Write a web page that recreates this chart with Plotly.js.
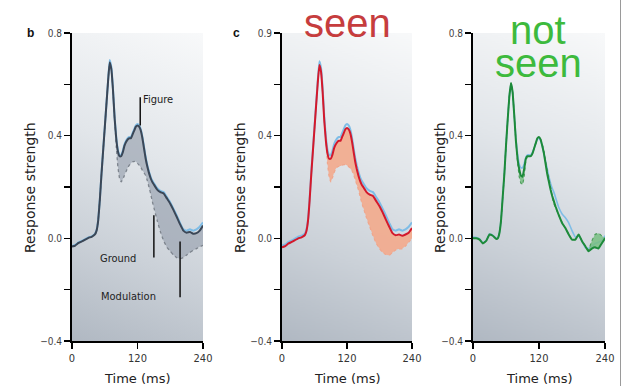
<!DOCTYPE html>
<html><head><meta charset="utf-8">
<script src="https://cdn.plot.ly/plotly-3.0.1.min.js"></script>
<style>body{margin:0;background:#fff}#c{width:624px;height:386px}</style>
</head><body><div id="c"></div>
<script>
const time = [0,6,12,18,24,30,36,42,45,48,51,54,57,60,63,66,69,72,75,78,81,84,87,90,93,96,99,102,105,108,111,114,117,120,123,126,129,132,135,138,141,144,147,150,156,162,168,174,180,186,192,198,204,210,216,222,228,234,240];

// Panel b: figure (solid), ground (dotted), blue reference
const figureB = [-0.032,-0.028,-0.018,-0.012,-0.005,0.002,0.006,0.015,0.03,0.07,0.15,0.25,0.34,0.43,0.52,0.61,0.685,0.66,0.58,0.47,0.39,0.34,0.32,0.32,0.335,0.36,0.375,0.385,0.39,0.39,0.405,0.42,0.435,0.44,0.435,0.42,0.39,0.35,0.31,0.28,0.255,0.235,0.22,0.21,0.19,0.18,0.175,0.155,0.135,0.11,0.083,0.055,0.03,0.022,0.025,0.018,0.02,0.03,0.05];
const groundB = [-0.032,-0.028,-0.018,-0.012,-0.005,0.002,0.006,0.015,0.03,0.07,0.15,0.25,0.34,0.43,0.52,0.61,0.685,0.66,0.58,0.47,0.36,0.28,0.235,0.22,0.23,0.245,0.26,0.275,0.285,0.292,0.298,0.3,0.298,0.292,0.285,0.277,0.265,0.255,0.245,0.225,0.2,0.175,0.145,0.12,0.07,0.025,-0.01,-0.035,-0.05,-0.065,-0.075,-0.08,-0.075,-0.065,-0.055,-0.047,-0.04,-0.033,-0.027];
const blueB = [-0.03,-0.026,-0.016,-0.01,-0.003,0.004,0.008,0.017,0.032,0.072,0.152,0.252,0.342,0.432,0.522,0.612,0.695,0.668,0.585,0.475,0.395,0.345,0.325,0.325,0.34,0.365,0.38,0.39,0.395,0.395,0.41,0.425,0.44,0.445,0.44,0.425,0.395,0.355,0.315,0.285,0.26,0.24,0.225,0.215,0.195,0.185,0.18,0.16,0.14,0.115,0.088,0.06,0.035,0.03,0.035,0.03,0.035,0.045,0.062];

// Panel c: seen
const seenC = [-0.035,-0.03,-0.02,-0.014,-0.007,0.0,0.004,0.012,0.028,0.068,0.148,0.248,0.338,0.428,0.518,0.605,0.675,0.65,0.57,0.46,0.38,0.33,0.31,0.31,0.325,0.35,0.365,0.375,0.38,0.38,0.395,0.41,0.425,0.43,0.425,0.41,0.38,0.34,0.3,0.27,0.245,0.225,0.21,0.2,0.18,0.17,0.165,0.145,0.125,0.1,0.072,0.045,0.02,0.012,0.015,0.01,0.015,0.022,0.04];
const lowerC = [-0.035,-0.03,-0.02,-0.014,-0.007,0.0,0.004,0.012,0.028,0.068,0.148,0.248,0.338,0.428,0.518,0.605,0.675,0.65,0.57,0.46,0.38,0.29,0.24,0.22,0.235,0.255,0.27,0.278,0.28,0.282,0.285,0.287,0.287,0.285,0.28,0.272,0.265,0.25,0.23,0.21,0.19,0.165,0.14,0.12,0.08,0.045,0.01,-0.02,-0.04,-0.055,-0.063,-0.066,-0.055,-0.045,-0.042,-0.04,-0.03,-0.015,0.0];
const blueC = [-0.028,-0.024,-0.014,-0.008,-0.001,0.006,0.01,0.018,0.034,0.074,0.154,0.254,0.344,0.434,0.524,0.614,0.69,0.665,0.585,0.475,0.395,0.345,0.325,0.325,0.34,0.365,0.38,0.39,0.395,0.395,0.41,0.425,0.44,0.445,0.44,0.425,0.395,0.355,0.315,0.285,0.26,0.24,0.225,0.215,0.195,0.185,0.18,0.16,0.14,0.115,0.088,0.06,0.035,0.03,0.035,0.03,0.035,0.045,0.062];

// Panel not seen
const notSeen = [0.0,0.0,-0.005,-0.02,-0.01,0.015,0.01,-0.002,0.0,0.02,0.07,0.16,0.25,0.36,0.46,0.55,0.605,0.57,0.48,0.38,0.31,0.27,0.245,0.24,0.27,0.31,0.32,0.32,0.32,0.33,0.35,0.37,0.39,0.395,0.385,0.36,0.33,0.29,0.25,0.22,0.19,0.165,0.145,0.125,0.09,0.06,0.04,0.015,-0.005,-0.005,0.015,-0.01,-0.03,-0.05,-0.04,-0.035,-0.04,-0.02,0.0];
const lowerN = [0.0,0.0,-0.005,-0.02,-0.01,0.015,0.01,-0.002,0.0,0.02,0.07,0.16,0.25,0.36,0.46,0.55,0.605,0.57,0.48,0.38,0.3,0.24,0.215,0.21,0.24,0.3,0.32,0.32,0.32,0.33,0.35,0.37,0.39,0.395,0.385,0.365,0.34,0.3,0.265,0.235,0.2,0.16,0.135,0.12,0.09,0.06,0.04,0.015,-0.005,-0.005,0.015,-0.01,-0.03,-0.045,-0.01,0.015,0.02,0.01,0.0];
const blueN = [0.005,0.003,-0.002,-0.018,-0.008,0.017,0.012,0.0,0.002,0.022,0.072,0.162,0.252,0.362,0.462,0.552,0.6,0.568,0.482,0.39,0.33,0.29,0.275,0.275,0.29,0.315,0.325,0.325,0.325,0.335,0.35,0.37,0.385,0.39,0.38,0.36,0.33,0.3,0.27,0.24,0.215,0.195,0.18,0.16,0.12,0.095,0.08,0.06,0.03,0.005,0.01,-0.01,-0.035,-0.04,-0.03,-0.02,-0.015,-0.01,0.01];

const yTicks = [-0.4,-0.2,0,0.2,0.4,0.6,0.8];
const yLabelsB = ['\u22120.4','','0.0','','0.4','','0.8'];
const yLabelsC = ['\u22120.4','','0.0','','0.4','','0.9'];
const xTicks = [0,120,240];
const xLabels = ['0','120','240'];

const NARROW = 'DejaVu Sans Condensed';
const WIDE = 'DejaVu Sans';

function gradient(){
  const c = document.createElement('canvas'); c.width = 131; c.height = 308;
  const g = c.getContext('2d');
  const gr = g.createLinearGradient(0,308,131,0);
  gr.addColorStop(0,'#b0b8c2');
  gr.addColorStop(0.3,'#cbd1d8');
  gr.addColorStop(0.6,'#e2e6ea');
  gr.addColorStop(1,'#f8f9fa');
  g.fillStyle = gr; g.fillRect(0,0,131,308);
  return c.toDataURL('image/png');
}
const bg = gradient();

function line(x,y,xa,ya,color,width,dash,fill,fillcolor){
  return {x:x,y:y,xaxis:xa,yaxis:ya,type:'scatter',mode:'lines',
    line:{color:color,width:width,dash:dash||'solid',shape:'spline',smoothing:0.3},
    fill:fill||'none',fillcolor:fillcolor,hoverinfo:'skip',showlegend:false};
}

const data = [
  line(time,blueB,'x','y','#7fbde6',2),
  line(time,groundB,'x','y','#7d848d',1.3,'dot'),
  line(time,figureB,'x','y','#3b4757',2,'solid','tonexty','rgba(150,160,173,0.65)'),
  line(time,blueC,'x2','y2','#7fbde6',2),
  line(time,lowerC,'x2','y2','#f0a68c',1.2,'dot'),
  line(time,seenC,'x2','y2','#d3192c',2,'solid','tonexty','rgba(243,170,140,0.9)'),
  line(time,blueN,'x3','y3','#7fbde6',1.6),
  line(time,lowerN,'x3','y3','#4e9e5c',1.2,'dot'),
  line(time,notSeen,'x3','y3','#1d8a3a',2,'solid','tonexty','rgba(120,190,130,0.85)')
];

const doms = [[72/624,203/624],[282/624,412/624],[473/624,605/624]];
const yd = [45/386,353/386];
function xax(d){return {domain:d,range:[0,240],showgrid:false,zeroline:false,showline:true,linecolor:'#000',linewidth:2,
  ticks:'outside',ticklen:6,tickwidth:1.5,tickcolor:'#000',tickvals:xTicks,ticktext:xLabels,
  tickfont:{family:NARROW,size:11,color:'#333'},fixedrange:true};}
function yax(anchor,labels){return {domain:yd,range:[-0.4,0.8],anchor:anchor,showgrid:false,zeroline:false,showline:true,linecolor:'#000',linewidth:2,
  ticks:'outside',ticklen:6,tickwidth:1.5,tickcolor:'#000',tickvals:yTicks,ticktext:labels,
  tickfont:{family:NARROW,size:10,color:'#444'},fixedrange:true};}

const images = doms.map(d=>({source:bg,xref:'paper',yref:'paper',x:d[0],y:yd[1],sizex:d[1]-d[0],sizey:yd[1]-yd[0],
  sizing:'stretch',xanchor:'left',yanchor:'top',layer:'below'}));

const ann = [];
function txt(px,py,text,font,extra){ann.push(Object.assign({x:px/624,y:(386-py)/386,xref:'paper',yref:'paper',text:text,showarrow:false,
  xanchor:'center',yanchor:'middle',font:font},extra||{}));}
// axis titles
[30,240,440].forEach(px=>txt(px,188,'Response strength',{family:WIDE,size:14,color:'#222'},{textangle:-90}));
[137.5,347,539].forEach(px=>txt(px,378,'Time (ms)',{family:WIDE,size:13,color:'#222'}));
// panel letters
txt(31,33,'<b>b</b>',{family:'Liberation Sans',size:12,color:'#111'});
txt(236,33,'<b>c</b>',{family:'Liberation Sans',size:12,color:'#111'});
// big labels
txt(347,23,'seen',{family:'Liberation Sans',size:40,color:'#c63d3e'});
txt(538,30,'not',{family:'Liberation Sans',size:40,color:'#3dba3d'});
txt(538,63,'seen',{family:'Liberation Sans',size:40,color:'#3dba3d'});
// panel b annotations (data coords)
ann.push({x:127,y:0.54,xref:'x',yref:'y',text:'Figure',showarrow:false,xanchor:'left',yanchor:'middle',font:{family:NARROW,size:11,color:'#222'}});
ann.push({x:84,y:-0.078,xref:'x',yref:'y',text:'Ground',showarrow:false,xanchor:'center',yanchor:'middle',font:{family:NARROW,size:11,color:'#222'}});
ann.push({x:103,y:-0.226,xref:'x',yref:'y',text:'Modulation',showarrow:false,xanchor:'center',yanchor:'middle',font:{family:NARROW,size:11,color:'#222'}});

const shapes = [
  {type:'line',xref:'x',yref:'y',x0:125,x1:125,y0:0.44,y1:0.55,line:{color:'#111',width:1.5}},
  {type:'line',xref:'x',yref:'y',x0:150,x1:150,y0:0.09,y1:-0.075,line:{color:'#111',width:1.5}},
  {type:'line',xref:'x',yref:'y',x0:198,x1:198,y0:-0.012,y1:-0.23,line:{color:'#111',width:1.5}},
  {type:'line',xref:'paper',yref:'paper',x0:620.5/624,x1:620.5/624,y0:0,y1:1,line:{color:'#9a9a9a',width:1}}
];

const layout = {width:624,height:386,margin:{l:0,r:0,t:0,b:0},paper_bgcolor:'#fff',plot_bgcolor:'rgba(0,0,0,0)',
  xaxis:xax(doms[0]),xaxis2:xax(doms[1]),xaxis3:xax(doms[2]),
  yaxis:yax('x',yLabelsB),yaxis2:yax('x2',yLabelsC),yaxis3:yax('x3',yLabelsB),
  images:images,annotations:ann,shapes:shapes,showlegend:false};
Plotly.newPlot('c',data,layout,{staticPlot:true,displayModeBar:false});
</script></body></html>
